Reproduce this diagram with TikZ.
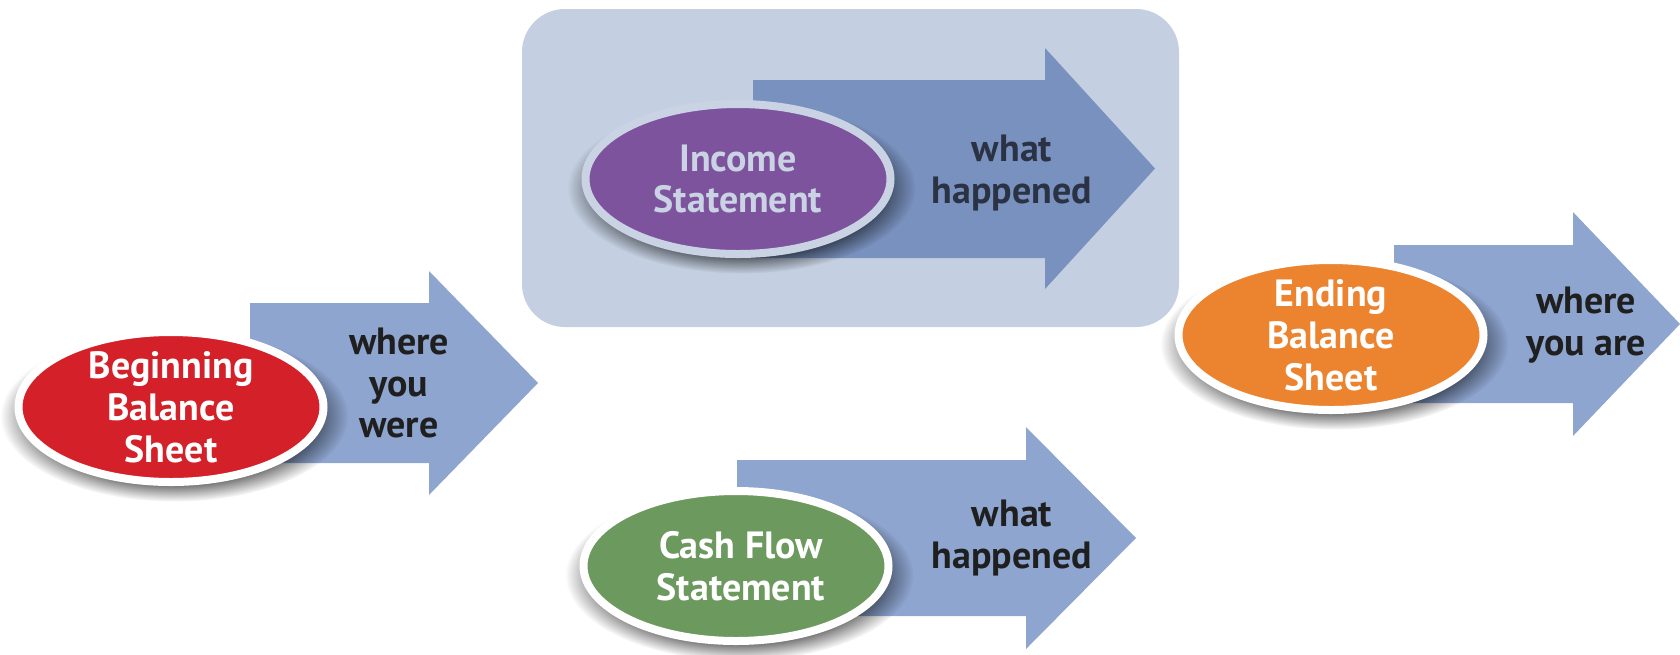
\documentclass[tikz,border=0pt]{standalone}
\usepackage{fontspec}
\setmainfont{PT Sans}
\usetikzlibrary{shapes.geometric,shadows,fadings}

\definecolor{arrowblue}{RGB}{142,165,208}
\definecolor{arrowdark}{RGB}{121,145,190}
\definecolor{panelblue}{RGB}{196,208,225}
\definecolor{sheetred}{RGB}{212,32,40}
\definecolor{incomepurple}{RGB}{125,83,157}
\definecolor{cashgreen}{RGB}{108,153,94}
\definecolor{endorange}{RGB}{236,131,46}
\definecolor{fadedwhite}{RGB}{202,211,227}
\definecolor{slatetext}{RGB}{42,50,68}

\tikzset{
  statement/.style={ellipse, draw=white, line width=0.8mm, minimum width=3.05cm,
    minimum height=1.50cm, inner sep=0pt,
    general shadow={shadow scale=1.14, shadow xshift=0.3mm, shadow yshift=-0.8mm,
      fill=black, opacity=0.55, path fading={circle with fuzzy edge 20 percent}}},
  stmttext/.style={text=white, align=center, font=\fontsize{10.8}{11.9}\selectfont\bfseries},
  flowtext/.style={text=black!88, align=center, font=\fontsize{10.8}{11.9}\selectfont\bfseries}
}

\begin{document}
\begin{tikzpicture}
    \useasboundingbox (0,0) rectangle (16.8,6.54);

    % Panel behind the income statement
    \fill[panelblue, rounded corners=0.43cm] (5.22,3.27) rectangle (11.79,6.45);

    % Big arrows
    \fill[arrowblue] (2.50,3.51) -- (4.29,3.51) -- (4.29,3.83) -- (5.38,2.71) -- (4.29,1.59) -- (4.29,1.91) -- (2.50,1.91) -- cycle;
    \fill[arrowdark] (7.53,5.74) -- (10.45,5.74) -- (10.45,6.06) -- (11.55,4.855) -- (10.45,3.65) -- (10.45,3.96) -- (7.53,3.96) -- cycle;
    \fill[arrowblue] (7.37,1.94) -- (10.26,1.94) -- (10.26,2.27) -- (11.36,1.16) -- (10.26,0.05) -- (10.26,0.38) -- (7.37,0.38) -- cycle;
    \fill[arrowblue] (13.94,4.09) -- (15.73,4.09) -- (15.73,4.42) -- (16.80,3.30) -- (15.73,2.18) -- (15.73,2.51) -- (13.94,2.51) -- cycle;

    % Statements
    \node[statement, fill=sheetred] (bbs) at (1.71,2.47) {};
    \node[statement, fill=incomepurple, draw=fadedwhite] (inc) at (7.38,4.75) {};
    \node[statement, fill=cashgreen] (cfs) at (7.36,0.88) {};
    \node[statement, fill=endorange] (ebs) at (13.31,3.19) {};

    \node[stmttext] (bbsLbl) at (bbs) {Beginning\\Balance\\Sheet};
    \node[stmttext, text=fadedwhite] (incLbl) at (inc) {Income\\Statement};
    \node[stmttext] (cfsLbl) at ([xshift=0.05cm]cfs) {Cash Flow\\Statement};
    \node[stmttext] (ebsLbl) at (ebs) {Ending\\Balance\\Sheet};

    % What each one tells
    \node[flowtext] (wereLbl) at (3.99,2.71) {where\\you\\were};
    \node[flowtext, text=slatetext] (incHap) at (10.12,4.81) {what\\happened};
    \node[flowtext] (cfsHap) at (10.12,1.16) {what\\happened};
    \node[flowtext] (areLbl) at (15.86,3.29) {where\\you are};
\end{tikzpicture}
\end{document}
